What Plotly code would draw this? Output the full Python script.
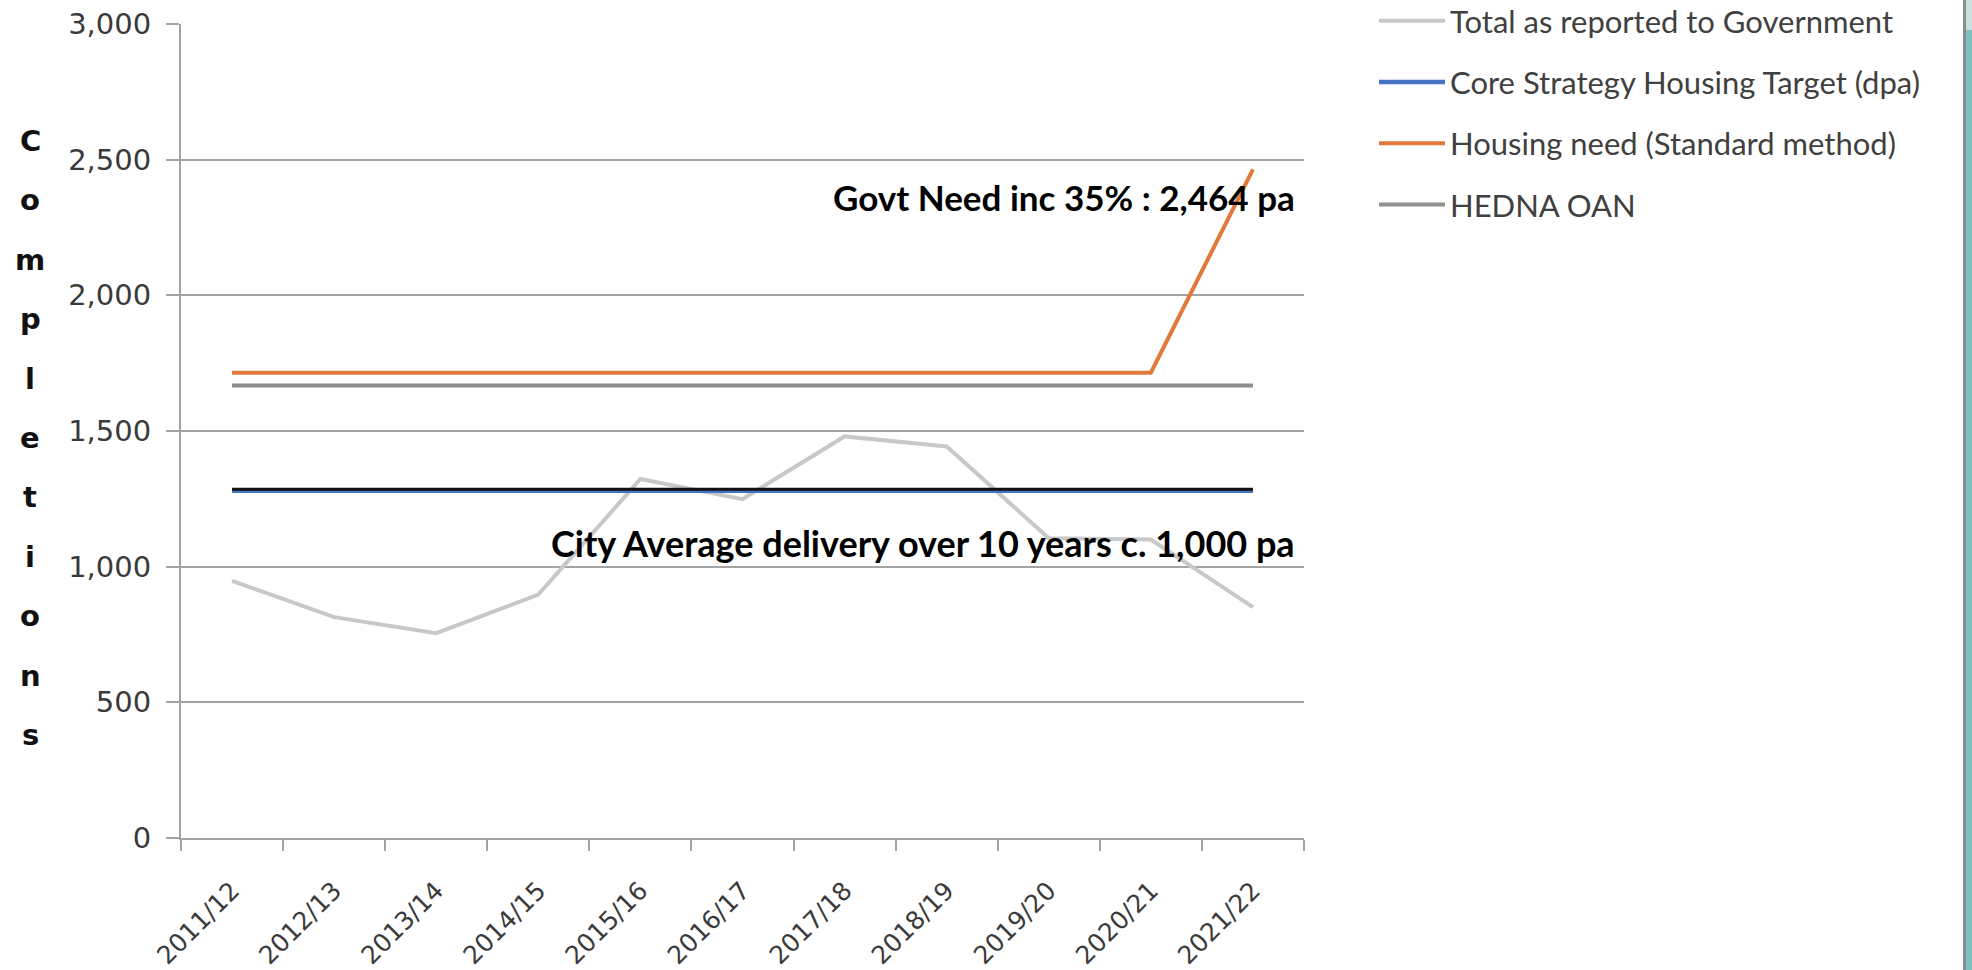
import plotly.graph_objects as go

# ---------------- data ----------------
years = ["2011/12", "2012/13", "2013/14", "2014/15", "2015/16", "2016/17",
         "2017/18", "2018/19", "2019/20", "2020/21", "2021/22"]
total_reported = [948, 814, 755, 897, 1323, 1249, 1480, 1443, 1105, 1100, 851]
core_target = [1280, 1280, 1280, 1280, 1280, 1280, 1280, 1280, 1280, 1280, 1280]
housing_need = [1715, 1715, 1715, 1715, 1715, 1715, 1715, 1715, 1715, 1715, 2464]
hedna_oan = [1668, 1668, 1668, 1668, 1668, 1668, 1668, 1668, 1668, 1668, 1668]
y_ticks = [0, 500, 1000, 1500, 2000, 2500, 3000]

series_names = ["Total as reported to Government",
                "Core Strategy Housing Target (dpa)",
                "Housing need (Standard method)",
                "HEDNA OAN"]
axis_title = "Completions"
note_govt = "Govt Need inc 35% : 2,464 pa"
note_city = "City Average delivery over 10 years c. 1,000 pa"

# ---------------- geometry (pixels) ----------------
W, H = 1972, 970
PL, PR, PT, PB = 181, 1304, 24, 838
pw, ph = PR - PL, PB - PT


def px_x(p):
    return (p - PL) / pw


def px_y(p):
    return (PB - p) / ph


GRID = "#a3a3a3"
TICKFONT = dict(family="DejaVu Sans", size=29, color="#3a3a3a")

fig = go.Figure()

fig.add_trace(go.Scatter(x=years, y=total_reported, name=series_names[0],
                         mode="lines", legendgroup="a",
                         line=dict(color="#c8c8c8", width=4)))
fig.add_trace(go.Scatter(x=years, y=core_target, name=series_names[1],
                         mode="lines", legendgroup="b",
                         line=dict(color="#4472c4", width=4.5)))
fig.add_trace(go.Scatter(x=years, y=[v + 5 for v in core_target],
                         mode="lines", showlegend=False, hoverinfo="skip",
                         line=dict(color="#111111", width=3)))
fig.add_trace(go.Scatter(x=years, y=housing_need, name=series_names[2],
                         mode="lines", legendgroup="c",
                         line=dict(color="#e0793a", width=4)))
fig.add_trace(go.Scatter(x=years, y=hedna_oan, name=series_names[3],
                         mode="lines", legendgroup="d",
                         line=dict(color="#8e8e8e", width=4)))

annotations = []
for i, ch in enumerate(axis_title):
    annotations.append(dict(
        text="<b>%s</b>" % ch, xref="paper", yref="paper",
        x=px_x(30), y=px_y(141 + 59.4 * i), xanchor="center", yanchor="middle",
        showarrow=False, font=dict(family="DejaVu Sans", size=29, color="#111111")))

annotations.append(dict(text="<b>%s</b>" % note_govt, xref="paper", yref="paper",
                        x=px_x(1297), y=px_y(197), xanchor="right", yanchor="middle",
                        showarrow=False, font=dict(family="Lato", size=35, color="#000000")))
annotations.append(dict(text="<b>%s</b>" % note_city, xref="paper", yref="paper",
                        x=px_x(1297), y=px_y(543), xanchor="right", yanchor="middle",
                        showarrow=False, font=dict(family="Lato", size=36, color="#000000")))

shapes = [
    dict(type="rect", xref="paper", yref="paper", x0=px_x(1963), x1=px_x(1966),
         y0=px_y(H + 5), y1=px_y(-5), fillcolor="#8c8c8c", line=dict(width=0), layer="above"),
    dict(type="rect", xref="paper", yref="paper", x0=px_x(1966), x1=px_x(W + 5),
         y0=px_y(H + 5), y1=px_y(30), fillcolor="#7cc0be", line=dict(width=0), layer="above"),
    dict(type="rect", xref="paper", yref="paper", x0=px_x(1966), x1=px_x(W + 5),
         y0=px_y(30), y1=px_y(-5), fillcolor="#c9e2e1", line=dict(width=0), layer="above"),
]

fig.update_layout(
    width=W, height=H,
    margin=dict(l=PL, r=W - PR, t=PT, b=H - PB, autoexpand=False),
    paper_bgcolor="white", plot_bgcolor="white",
    showlegend=True,
    legend=dict(x=px_x(1374), y=px_y(-6), xanchor="left", yanchor="top",
                font=dict(family="Lato", size=31, color="#404040"),
                tracegroupgap=18, itemwidth=66, bgcolor="rgba(0,0,0,0)"),
    annotations=annotations,
    shapes=shapes,
    xaxis=dict(type="category", range=[-0.5, len(years) - 0.5],
               tickson="boundaries", ticks="outside", ticklen=11, tickwidth=2,
               tickcolor=GRID, showline=True, linecolor=GRID, linewidth=2,
               showgrid=False, zeroline=False, tickangle=-45,
               tickfont=dict(family="DejaVu Sans", size=25, color="#3a3a3a"),
               ticklabelstandoff=26),
    yaxis=dict(range=[0, 3000], tickvals=y_ticks, tickformat=",",
               showgrid=True, gridcolor=GRID, gridwidth=2,
               ticks="outside", ticklen=13, tickwidth=2, tickcolor=GRID,
               showline=True, linecolor=GRID, linewidth=2, zeroline=False,
               tickfont=TICKFONT, ticklabelstandoff=9),
)

fig.write_html("out.html", config={"displayModeBar": False})
